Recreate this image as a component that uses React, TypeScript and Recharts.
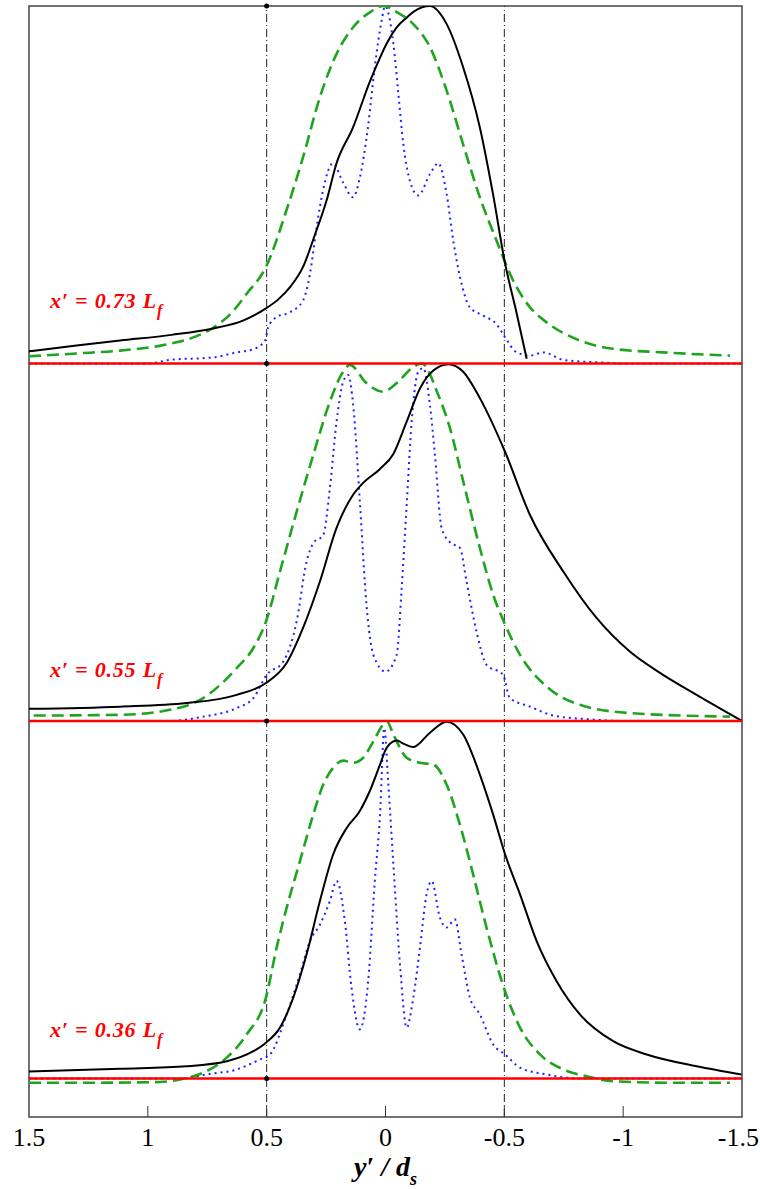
import { LineChart, Line, XAxis, YAxis, ReferenceLine, ReferenceArea, ReferenceDot } from "recharts"

// each profile: [y'/ds, normalised value]
const black073 = [
  [1.5, 0.034], [1.3, 0.05], [1.117, 0.064], [0.9, 0.08], [0.725, 0.098], [0.6, 0.12], [0.503, 0.154],
  [0.45, 0.18], [0.4, 0.215], [0.347, 0.27], [0.297, 0.36], [0.248, 0.456], [0.206, 0.56], [0.137, 0.66],
  [0.065, 0.79], [0.02, 0.86], [-0.005, 0.895], [-0.047, 0.94], [-0.09, 0.968], [-0.116, 0.983],
  [-0.187, 1.0], [-0.257, 0.95], [-0.326, 0.83], [-0.397, 0.66], [-0.452, 0.475], [-0.503, 0.28],
  [-0.552, 0.14], [-0.594, 0.013],
]
const green073 = [
  [1.5, 0.02], [1.3, 0.028], [1.117, 0.036], [0.907, 0.055], [0.8, 0.075], [0.725, 0.1], [0.65, 0.14],
  [0.584, 0.195], [0.503, 0.27], [0.416, 0.43], [0.347, 0.577], [0.276, 0.745], [0.206, 0.866], [0.137, 0.94],
  [0.066, 0.982], [0.01, 1.0], [-0.047, 0.983], [-0.116, 0.95], [-0.187, 0.885], [-0.257, 0.764],
  [-0.326, 0.614], [-0.397, 0.465], [-0.467, 0.344], [-0.537, 0.232], [-0.608, 0.157], [-0.678, 0.115],
  [-0.818, 0.064], [-0.957, 0.041], [-1.167, 0.031], [-1.449, 0.022],
]
const blue073 = [
  [1.5, 0], [1.0, 0], [0.907, 0.01], [0.725, 0.017], [0.626, 0.031], [0.556, 0.04], [0.507, 0.064],
  [0.494, 0.1], [0.458, 0.13], [0.402, 0.143], [0.347, 0.176], [0.318, 0.25], [0.29, 0.38], [0.263, 0.484],
  [0.221, 0.56], [0.179, 0.507], [0.137, 0.465], [0.108, 0.52], [0.074, 0.66], [0.045, 0.83], [0.016, 0.96],
  [0.002, 1.0], [-0.033, 0.895], [-0.054, 0.755], [-0.075, 0.614], [-0.103, 0.51], [-0.138, 0.47],
  [-0.187, 0.53], [-0.222, 0.56], [-0.257, 0.475], [-0.285, 0.344], [-0.32, 0.223], [-0.355, 0.157],
  [-0.411, 0.134], [-0.467, 0.11], [-0.503, 0.073], [-0.552, 0.031], [-0.608, 0.022], [-0.664, 0.031],
  [-0.748, 0.01], [-0.9, 0.003], [-1.0, 0], [-1.5, 0],
]

const black055 = [
  [1.5, 0.034], [1.117, 0.04], [0.837, 0.05], [0.626, 0.073], [0.503, 0.106], [0.416, 0.162], [0.347, 0.26],
  [0.276, 0.39], [0.206, 0.54], [0.137, 0.632], [0.094, 0.666], [0.023, 0.705], [-0.033, 0.747],
  [-0.089, 0.837], [-0.145, 0.93], [-0.201, 0.98], [-0.264, 0.998], [-0.327, 0.977], [-0.397, 0.903],
  [-0.503, 0.753], [-0.608, 0.576], [-0.748, 0.418], [-0.888, 0.288], [-1.028, 0.194], [-1.168, 0.129],
  [-1.309, 0.073], [-1.5, 0.0],
]
const green055 = [
  [1.48, 0.015], [1.117, 0.017], [0.907, 0.031], [0.767, 0.064], [0.626, 0.148], [0.556, 0.204],
  [0.503, 0.278], [0.444, 0.418], [0.374, 0.585], [0.304, 0.744], [0.234, 0.893], [0.178, 0.977],
  [0.15, 0.996], [0.08, 0.945], [0.01, 0.921], [-0.047, 0.945], [-0.117, 0.99], [-0.152, 1.0],
  [-0.222, 0.912], [-0.271, 0.82], [-0.327, 0.67], [-0.397, 0.484], [-0.453, 0.353], [-0.503, 0.27],
  [-0.566, 0.185], [-0.678, 0.096], [-0.818, 0.045], [-1.028, 0.022], [-1.449, 0.012],
]
const blue055 = [
  [1.5, 0], [0.907, 0], [0.767, 0.012], [0.626, 0.036], [0.556, 0.064], [0.5, 0.129], [0.43, 0.166],
  [0.374, 0.278], [0.332, 0.446], [0.304, 0.497], [0.262, 0.52], [0.234, 0.651], [0.206, 0.837],
  [0.178, 0.949], [0.157, 0.968], [0.136, 0.884], [0.107, 0.604], [0.08, 0.325], [0.051, 0.185],
  [0.0, 0.138], [-0.047, 0.185], [-0.068, 0.37], [-0.089, 0.604], [-0.11, 0.837], [-0.138, 0.977],
  [-0.159, 0.987], [-0.187, 0.884], [-0.208, 0.744], [-0.236, 0.54], [-0.271, 0.5], [-0.313, 0.484],
  [-0.341, 0.39], [-0.383, 0.25], [-0.425, 0.157], [-0.495, 0.129], [-0.523, 0.064], [-0.608, 0.04],
  [-0.706, 0.015], [-0.85, 0.005], [-1.0, 0], [-1.5, 0],
]

const black036 = [
  [1.5, 0.019], [1.117, 0.027], [0.837, 0.034], [0.668, 0.048], [0.556, 0.076], [0.503, 0.1], [0.444, 0.142],
  [0.388, 0.226], [0.332, 0.347], [0.276, 0.496], [0.22, 0.627], [0.164, 0.7], [0.108, 0.748], [0.066, 0.804],
  [0.023, 0.878], [-0.005, 0.925], [-0.047, 0.945], [-0.08, 0.935], [-0.117, 0.927], [-0.187, 0.967],
  [-0.257, 0.998], [-0.327, 0.962], [-0.397, 0.85], [-0.453, 0.738], [-0.503, 0.627], [-0.566, 0.515],
  [-0.636, 0.384], [-0.72, 0.272], [-0.818, 0.179], [-0.958, 0.104], [-1.099, 0.067], [-1.309, 0.034],
  [-1.498, 0.011],
]
const green036 = [
  [1.5, -0.012], [1.2, -0.012], [0.95, -0.01], [0.865, -0.003], [0.767, 0.016], [0.668, 0.058],
  [0.584, 0.123], [0.503, 0.226], [0.458, 0.366], [0.416, 0.477], [0.36, 0.608], [0.304, 0.738],
  [0.262, 0.822], [0.22, 0.869], [0.178, 0.889], [0.136, 0.883], [0.094, 0.897], [0.051, 0.943],
  [0.01, 0.99], [-0.005, 1.0], [-0.033, 0.962], [-0.089, 0.897], [-0.145, 0.883], [-0.201, 0.878],
  [-0.257, 0.822], [-0.313, 0.71], [-0.369, 0.57], [-0.425, 0.422], [-0.503, 0.244], [-0.566, 0.142],
  [-0.65, 0.067], [-0.748, 0.025], [-0.846, 0.006], [-0.958, -0.008], [-1.2, -0.012], [-1.449, -0.012],
]
const blue036 = [
  [1.5, 0], [0.85, 0], [0.756, 0.011], [0.626, 0.025], [0.528, 0.053], [0.486, 0.067], [0.416, 0.179],
  [0.36, 0.291], [0.318, 0.384], [0.276, 0.43], [0.234, 0.496], [0.206, 0.552], [0.171, 0.44],
  [0.143, 0.254], [0.108, 0.137], [0.073, 0.272], [0.045, 0.552], [0.023, 0.738], [0.005, 0.98],
  [-0.011, 0.832], [-0.033, 0.6], [-0.061, 0.319], [-0.089, 0.142], [-0.117, 0.226], [-0.145, 0.366],
  [-0.173, 0.515], [-0.194, 0.552], [-0.229, 0.45], [-0.257, 0.422], [-0.292, 0.445], [-0.32, 0.347],
  [-0.355, 0.226], [-0.397, 0.179], [-0.453, 0.095], [-0.503, 0.067], [-0.566, 0.03], [-0.678, 0.011],
  [-0.8, 0], [-1.5, 0],
]

const xTicks = [1.5, 1, 0.5, 0, -0.5, -1, -1.5]
const topTicks = [1, 0.5, 0, -0.5, -1]
const panelLabels = ["0.73", "0.55", "0.36"]
const panelOffsets = [2, 1, 0]
const labelLift = [0.154, 0.123, 0.115]

const Y_MIN = -0.108
const Y_MAX = 3

const panels = [
  { black: black073, green: green073, blue: blue073 },
  { black: black055, green: green055, blue: blue055 },
  { black: black036, green: green036, blue: blue036 },
]

const toRows = (pts: number[][], off: number) => pts.map(([x, v]) => ({ x, y: v + off }))

const serif = "'Liberation Serif', 'Times New Roman', serif"

const BottomTick = (props: any) => {
  const { x, y, payload } = props
  const edge = Math.abs(payload.value) === 1.5
  // the right-most label sits flush with the page edge, as in the original
  const lastRight = payload.value === -1.5
  return (
    <g>
      {!edge && <line x1={x} x2={x} y1={y} y2={y - 11} stroke="#333" strokeWidth={1} />}
      <text
        x={lastRight ? x + 17 : x}
        y={y + 29}
        textAnchor={lastRight ? "end" : "middle"}
        fontFamily={serif}
        fontSize={26}
        fill="#000"
      >
        {payload.value}
      </text>
    </g>
  )
}

const TopTick = (props: any) => {
  const { x, y } = props
  return <line x1={x} x2={x} y1={y} y2={y + 10} stroke="#333" strokeWidth={1} />
}

const PanelLabel = (text: string) => (props: any) => (
  <text x={props.cx} y={props.cy} fill="#ff0000" fontFamily={serif} fontSize={22} fontWeight="bold" fontStyle="italic" letterSpacing={0.8}>
    {"x\u2032 = " + text + " L"}
    <tspan dy={8} fontSize={16}>f</tspan>
  </text>
)

const AxisTitle = (props: any) => (
  <text x={props.cx} y={props.cy + 59} textAnchor="middle" fontFamily={serif} fontSize={28} fontWeight="bold" fontStyle="italic" fill="#000">
    {"y\u2032 / d"}
    <tspan dy={9} fontSize={18}>s</tspan>
  </text>
)

export default function App() {
  return (
    <div style={{ position: "absolute", left: 0, top: 0, background: "#fff" }}>
      <LineChart width={760} height={1189} margin={{ top: 0, right: 18, bottom: 12, left: 29 }}>
        <XAxis
          dataKey="x"
          type="number"
          domain={[-1.5, 1.5]}
          reversed
          ticks={xTicks}
          interval={0}
          height={60}
          tickSize={0}
          tickMargin={0}
          axisLine={false}
          tickLine={false}
          tick={<BottomTick />}
        />
        <XAxis
          xAxisId="top"
          orientation="top"
          type="number"
          domain={[-1.5, 1.5]}
          reversed
          ticks={topTicks}
          interval={0}
          height={6}
          tickSize={0}
          tickMargin={0}
          axisLine={false}
          tickLine={false}
          tick={<TopTick />}
        />
        <YAxis hide type="number" domain={[Y_MIN, Y_MAX]} allowDataOverflow />
        <ReferenceArea x1={1.5} x2={-1.5} y1={Y_MIN} y2={Y_MAX} fill="none" stroke="#444" strokeWidth={1.5} />
        {[0.5, -0.5].map((v) => (
          <ReferenceLine key={v} x={v} stroke="#222" strokeWidth={1} strokeDasharray="8 3 1 3" />
        ))}
        {panels.map((p, i) => (
          <Line
            key={"b" + i}
            data={toRows(p.blue, panelOffsets[i])}
            dataKey="y"
            type="monotone"
            stroke="#1f1fff"
            strokeWidth={2}
            strokeDasharray="2 4"
            dot={false}
            isAnimationActive={false}
          />
        ))}
        {panels.map((p, i) => (
          <Line
            key={"g" + i}
            data={toRows(p.green, panelOffsets[i])}
            dataKey="y"
            type="monotone"
            stroke="#1ea51e"
            strokeWidth={2.6}
            strokeDasharray="12 6"
            dot={false}
            isAnimationActive={false}
          />
        ))}
        {panels.map((p, i) => (
          <Line
            key={"k" + i}
            data={toRows(p.black, panelOffsets[i])}
            dataKey="y"
            type="monotone"
            stroke="#000"
            strokeWidth={2}
            dot={false}
            isAnimationActive={false}
          />
        ))}
        {panelOffsets.map((o) => (
          <ReferenceLine key={"r" + o} y={o} stroke="#ff0000" strokeWidth={2.5} />
        ))}
        {[0, 1, 2, 3].map((o) => (
          <ReferenceDot key={"d" + o} x={0.5} y={o} r={2.5} fill="#000" stroke="none" ifOverflow="visible" />
        ))}
        {panelLabels.map((t, i) => (
          <ReferenceDot
            key={"l" + i}
            x={1.412}
            y={panelOffsets[i] + labelLift[i]}
            r={0}
            ifOverflow="visible"
            shape={PanelLabel(t)}
          />
        ))}
        <ReferenceDot x={0} y={Y_MIN} r={0} ifOverflow="visible" shape={AxisTitle} />
      </LineChart>
    </div>
  )
}
